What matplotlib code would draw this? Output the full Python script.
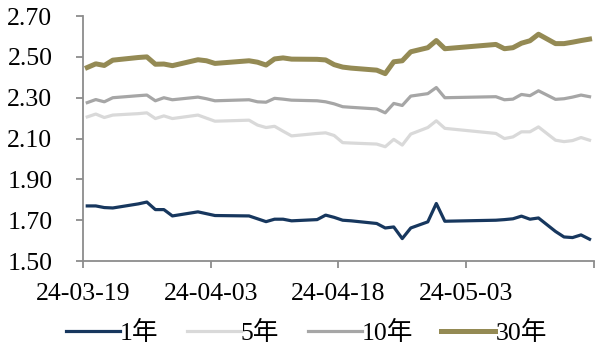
import numpy as np
import pandas as pd
import matplotlib
matplotlib.use("Agg")
import matplotlib.pyplot as plt
import matplotlib.dates as mdates

# trading days (incl. weekend make-up days Apr 7, Apr 28, May 11)
dates = pd.to_datetime([
    "2024-03-19", "2024-03-20", "2024-03-21", "2024-03-22", "2024-03-25",
    "2024-03-26", "2024-03-27", "2024-03-28", "2024-03-29", "2024-04-01",
    "2024-04-02", "2024-04-03", "2024-04-07", "2024-04-08", "2024-04-09",
    "2024-04-10", "2024-04-11", "2024-04-12", "2024-04-15", "2024-04-16",
    "2024-04-17", "2024-04-18", "2024-04-19", "2024-04-22", "2024-04-23",
    "2024-04-24", "2024-04-25", "2024-04-26", "2024-04-28", "2024-04-29",
    "2024-04-30", "2024-05-06", "2024-05-07", "2024-05-08", "2024-05-09",
    "2024-05-10", "2024-05-11", "2024-05-13", "2024-05-14", "2024-05-15",
    "2024-05-16", "2024-05-17",
])

y1 = [1.770, 1.770, 1.762, 1.760, 1.780, 1.789, 1.752, 1.752, 1.721, 1.741,
      1.732, 1.723, 1.721, 1.707, 1.693, 1.705, 1.705, 1.697, 1.703, 1.725,
      1.714, 1.700, 1.697, 1.684, 1.662, 1.667, 1.610, 1.662, 1.692, 1.782,
      1.695, 1.700, 1.703, 1.707, 1.720, 1.705, 1.711, 1.645, 1.618, 1.615,
      1.628, 1.607]
y5 = [2.206, 2.220, 2.203, 2.215, 2.222, 2.226, 2.198, 2.211, 2.198, 2.215,
      2.200, 2.185, 2.190, 2.166, 2.154, 2.160, 2.136, 2.113, 2.125, 2.128,
      2.115, 2.080, 2.078, 2.073, 2.060, 2.096, 2.068, 2.122, 2.154, 2.187,
      2.150, 2.125, 2.100, 2.108, 2.133, 2.133, 2.157, 2.092, 2.085, 2.090,
      2.105, 2.092]
y10 = [2.276, 2.291, 2.280, 2.300, 2.310, 2.313, 2.285, 2.300, 2.290, 2.303,
       2.295, 2.285, 2.290, 2.280, 2.278, 2.297, 2.293, 2.288, 2.285, 2.280,
       2.270, 2.256, 2.253, 2.245, 2.226, 2.272, 2.262, 2.308, 2.320, 2.350,
       2.300, 2.305, 2.290, 2.293, 2.316, 2.310, 2.334, 2.292, 2.295, 2.303,
       2.313, 2.305]
y30 = [2.448, 2.466, 2.458, 2.484, 2.497, 2.500, 2.464, 2.465, 2.457, 2.486,
       2.481, 2.468, 2.481, 2.474, 2.460, 2.490, 2.495, 2.489, 2.488, 2.485,
       2.462, 2.450, 2.445, 2.435, 2.418, 2.476, 2.481, 2.525, 2.545, 2.580,
       2.540, 2.561, 2.540, 2.545, 2.567, 2.579, 2.611, 2.565, 2.565, 2.572,
       2.580, 2.587]

names = ["1年", "5年", "10年", "30年"]
colors = ["#17375E", "#D9D9D9", "#A6A6A6", "#948A54"]
widths = [2.3, 2.3, 2.3, 3.6]

plt.rcParams["font.family"] = ["Liberation Serif", "Noto Sans CJK SC"]
plt.rcParams["font.size"] = 18.5

fig = plt.figure(figsize=(5.95, 3.49), dpi=100)
ax = fig.add_axes([0.1395, 0.252, 0.8585, 0.702])

# points sit mid-day, like a date axis with "between tick marks"
x = dates + pd.Timedelta(hours=12)
for ys, n, c, w in zip([y1, y5, y10, y30], names, colors, widths):
    ax.plot(x, ys, color=c, lw=w, label=n, solid_joinstyle="round")

ax.set_ylim(1.50, 2.70)
ax.set_yticks(np.arange(1.50, 2.71, 0.20))
ax.yaxis.set_major_formatter(matplotlib.ticker.FormatStrFormatter("%.2f"))

start = pd.Timestamp("2024-03-19")
ticks = [start + pd.Timedelta(days=15 * i) for i in range(5)]
ax.set_xlim(ticks[0], ticks[-1])
ax.set_xticks(ticks)
ax.set_xticklabels([t.strftime("%y-%m-%d") for t in ticks[:-1]] + [""])

for s in ["top", "right"]:
    ax.spines[s].set_visible(False)
for s in ["left", "bottom"]:
    ax.spines[s].set_color("#8C8C8C")
    ax.spines[s].set_linewidth(1.3)
ax.tick_params(axis="both", color="#8C8C8C", width=1.3, length=5)
ax.tick_params(axis="y", pad=17)
ax.tick_params(axis="x", pad=11)

fig.legend(loc="lower center", bbox_to_anchor=(0.515, -0.055), ncol=4,
           frameon=False, handlelength=2.1, handletextpad=0.0,
           columnspacing=1.1, fontsize=18.5)

fig.savefig("out.png", dpi=100)
